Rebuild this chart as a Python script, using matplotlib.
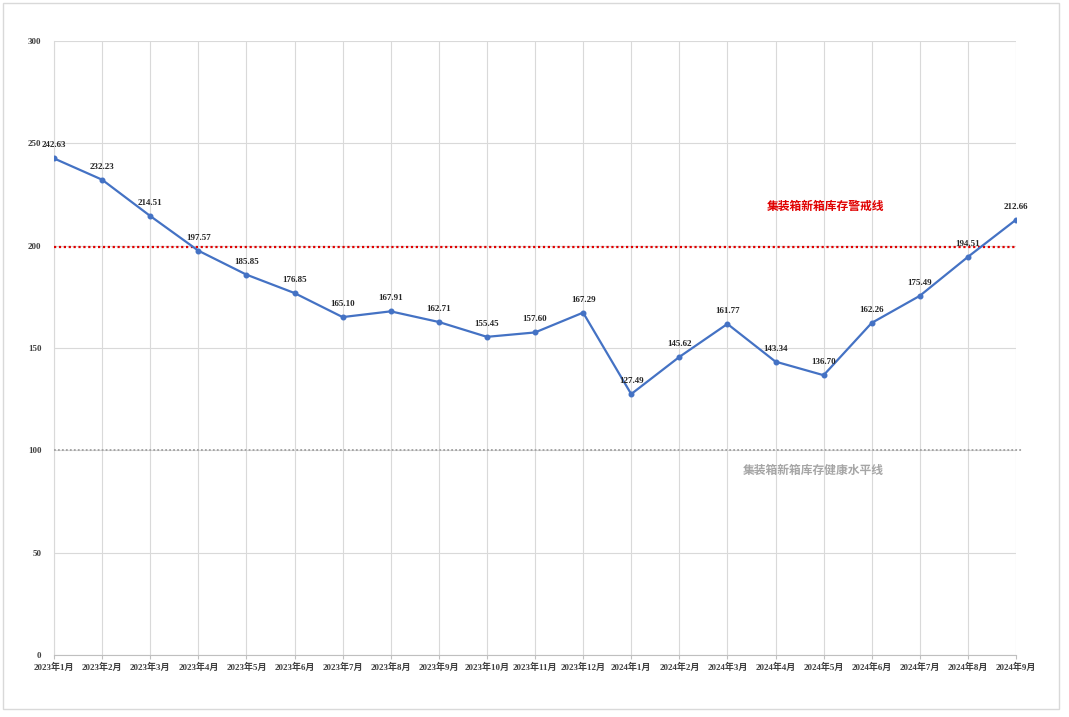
import numpy as np
import matplotlib.pyplot as plt
from matplotlib.patches import Rectangle

# data
months = ['2023年1月', '2023年2月', '2023年3月', '2023年4月', '2023年5月', '2023年6月',
          '2023年7月', '2023年8月', '2023年9月', '2023年10月', '2023年11月', '2023年12月',
          '2024年1月', '2024年2月', '2024年3月', '2024年4月', '2024年5月', '2024年6月',
          '2024年7月', '2024年8月', '2024年9月']
inventory = [242.63, 232.23, 214.51, 197.57, 185.85, 176.85, 165.10, 167.91, 162.71,
             155.45, 157.60, 167.29, 127.49, 145.62, 161.77, 143.34, 136.70, 162.26,
             175.49, 194.51, 212.66]
warning_level = 199.5
healthy_level = 100
warning_label = '集装箱新箱库存警戒线'
healthy_label = '集装箱新箱库存健康水平线'
y_ticks = [0, 50, 100, 150, 200, 250, 300]

serif = ['Liberation Serif', 'Noto Sans CJK SC', 'DejaVu Sans']
cjk = ['Noto Sans CJK SC', 'DejaVu Sans']

fig = plt.figure(figsize=(10.69, 7.17), dpi=100)
# outer chart border
fig.patches.append(Rectangle((3 / 1069, 8 / 717), 1056 / 1069, 706 / 717,
                             transform=fig.transFigure, fill=False,
                             edgecolor='#d9d9d9', linewidth=1.0))
ax = fig.add_axes([54 / 1069, 1 - 655 / 717, (1016 - 54) / 1069, (655 - 41) / 717])

x = np.arange(len(months))
ax.plot(x, inventory, color='#4472C4', linewidth=1.6, marker='o', markersize=3.3, zorder=4)

for xi, v in zip(x, inventory):
    ax.annotate(f'{v:.2f}', (xi, v), xytext=(0, 6.5), textcoords='offset points',
                ha='center', va='bottom', fontsize=6.5, fontweight='bold',
                family=serif, color='#262626', zorder=5)

ax.axhline(warning_level, xmin=0, xmax=1.0, color='#e00000', linestyle=(0, (1, 1.2)),
           linewidth=1.6, zorder=3)
ax.axhline(healthy_level, xmin=0, xmax=1.006, color='#a0a0a0', linestyle=(0, (1, 1.2)),
           linewidth=1.3, zorder=3, clip_on=False)

ax.text(16.05, 219, warning_label, color='#e00000', fontsize=8.5, fontweight='bold',
        family=cjk, ha='center', va='center')
ax.text(15.78, 90, healthy_label, color='#a6a6a6', fontsize=8.5, fontweight='bold',
        family=cjk, ha='center', va='center')

ax.set_xlim(0, len(months) - 1)
ax.set_ylim(0, 300)
ax.set_xticks(x)
ax.set_xticklabels(months, fontsize=6.5, fontweight='bold', family=serif, color='#404040')
ax.set_yticks(y_ticks)
ax.set_yticklabels([str(t) for t in y_ticks], fontsize=6.5, fontweight='bold',
                   family=serif, color='#404040')
ax.grid(True, color='#d9d9d9', linewidth=0.8)
ax.set_axisbelow(True)
for side in ['top', 'right']:
    ax.spines[side].set_visible(False)
ax.spines['left'].set_color('#d9d9d9')
ax.spines['bottom'].set_color('#bfbfbf')
ax.tick_params(axis='x', length=3, color='#bfbfbf', pad=2.5)
ax.tick_params(axis='y', length=0, pad=9)

fig.savefig('out.png', dpi=100)
